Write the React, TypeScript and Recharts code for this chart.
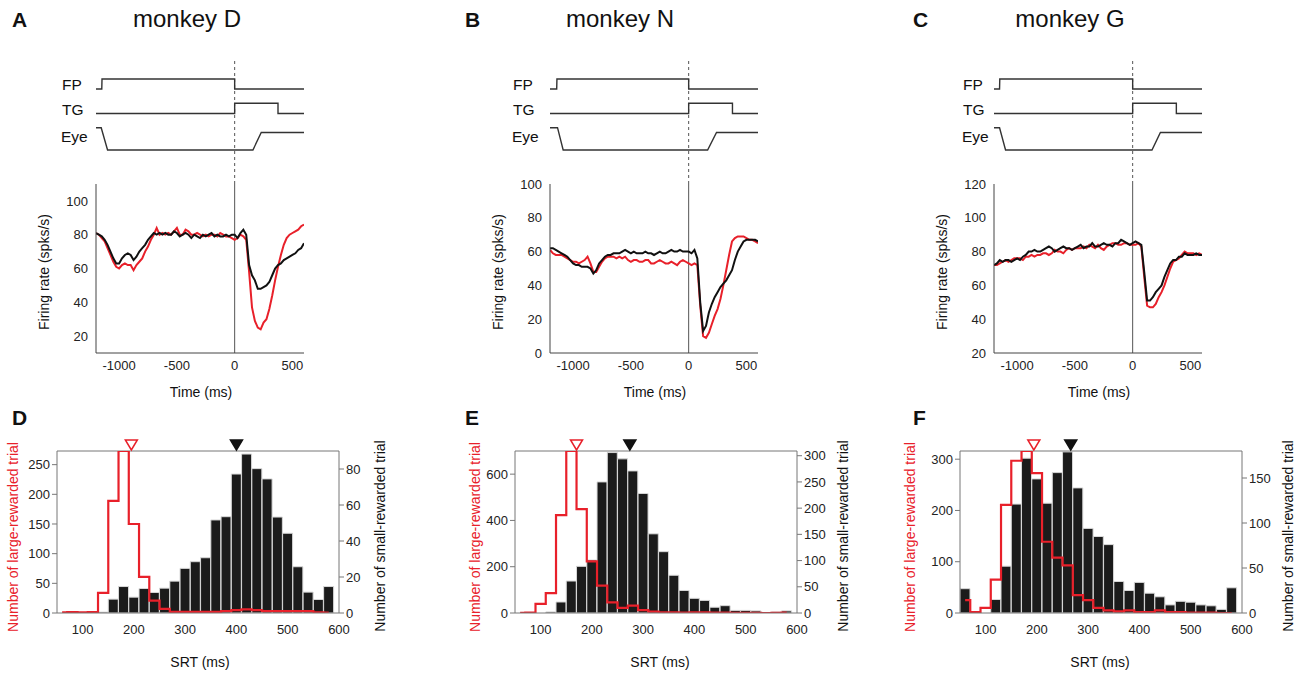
import React from 'react';
import {
  LineChart,
  Line,
  XAxis,
  YAxis,
  ReferenceLine,
  ComposedChart,
  Bar,
  ReferenceDot,
} from 'recharts';

const RED = '#e8202a';
const FONT = '"Liberation Sans", Arial, sans-serif';

// ---------- firing-rate time axis (ms) ----------
const TIME = [
  -1200, -1175, -1150, -1125, -1100, -1075, -1050, -1025, -1000, -975, -950, -925, -900, -875, -850, -825,
  -800, -775, -750, -725, -700, -675, -650, -625, -600, -575, -550, -525, -500, -475, -450, -425,
  -400, -375, -350, -325, -300, -275, -250, -225, -200, -175, -150, -125, -100, -75, -50, -25,
  0, 25, 50, 75, 100, 125, 150, 175, 200, 225, 250, 275, 300, 325, 350, 375,
  400, 425, 450, 475, 500, 525, 550, 575, 600,
];

// monkey D
const A_BLACK = [
  81, 80, 79, 77, 74, 70, 66, 63, 63, 66, 68, 69, 68, 65, 67, 70,
  72, 74, 77, 79, 81, 80, 81, 80, 81, 80, 80, 82, 81, 79, 80, 81,
  80, 78, 80, 79, 78, 80, 79, 80, 81, 79, 80, 79, 79, 80, 79, 80,
  80, 78, 81, 83, 80, 62, 56, 53, 48, 48, 49, 50, 52, 56, 60, 62,
  63, 65, 66, 67, 68, 69, 71, 72, 75,
];
const A_RED = [
  81, 80, 78, 76, 72, 68, 64, 61, 60, 62, 63, 62, 62, 59, 62, 64,
  66, 70, 73, 77, 80, 84, 80, 81, 80, 81, 80, 82, 84, 80, 80, 83,
  82, 80, 80, 81, 80, 79, 80, 79, 80, 80, 79, 81, 80, 79, 79, 78,
  77, 78, 80, 79, 77, 58, 37, 29, 25, 24, 28, 30, 36, 44, 53, 61,
  68, 74, 78, 80, 81, 82, 83, 85, 86,
];

// monkey N
const B_BLACK = [
  62, 62, 61, 60, 59, 58, 57, 55, 53, 52, 52, 51, 51, 51, 50, 47,
  49, 53, 55, 57, 58, 58, 59, 59, 59, 60, 61, 60, 59, 60, 59, 59,
  59, 60, 59, 59, 58, 59, 60, 59, 59, 60, 61, 60, 60, 61, 60, 60,
  60, 59, 61, 56, 30, 13, 16, 24, 29, 33, 36, 39, 41, 43, 46, 49,
  55, 60, 63, 66, 67, 67, 67, 67, 66,
];
const B_RED = [
  61, 59, 58, 58, 58, 57, 56, 55, 54, 54, 53, 54, 55, 57, 53, 48,
  48, 51, 54, 56, 57, 57, 57, 56, 57, 56, 57, 55, 54, 55, 55, 54,
  54, 55, 55, 53, 53, 54, 55, 54, 53, 53, 54, 53, 52, 54, 55, 54,
  53, 52, 53, 52, 28, 10, 9, 12, 17, 22, 26, 32, 40, 49, 58, 66,
  68, 69, 69, 69, 68, 67, 67, 66, 65,
];

// monkey G
const C_BLACK = [
  72, 73, 75, 74, 75, 75, 74, 75, 76, 75, 77, 78, 80, 80, 81, 80,
  80, 81, 82, 83, 82, 80, 81, 82, 83, 82, 82, 81, 82, 83, 84, 82,
  83, 83, 85, 83, 83, 84, 85, 84, 84, 83, 85, 85, 87, 86, 85, 84,
  85, 86, 85, 84, 68, 51, 51, 53, 56, 58, 60, 65, 69, 73, 75, 75,
  77, 77, 79, 78, 78, 78, 79, 78, 78,
];
const C_RED = [
  72, 72, 73, 74, 75, 74, 75, 76, 76, 76, 75, 77, 77, 78, 77, 78,
  78, 79, 79, 78, 79, 81, 80, 80, 79, 81, 82, 81, 82, 82, 82, 83,
  82, 84, 83, 82, 84, 82, 81, 83, 84, 85, 85, 84, 84, 85, 85, 84,
  84, 84, 85, 83, 65, 48, 47, 47, 49, 53, 56, 60, 65, 70, 74, 75,
  76, 78, 80, 79, 79, 79, 78, 79, 78,
];

const RATE_X_TICKS = [-1000, -500, 0, 500];
const A_Y_TICKS = [20, 40, 60, 80, 100];
const B_Y_TICKS = [0, 20, 40, 60, 80, 100];
const C_Y_TICKS = [20, 40, 60, 80, 100, 120];

// ---------- event traces: [time, level] ----------
// levels: FP off 9.5 / on 10.5; TG off 7.05 / on 8.07; Eye start 5.63, fix 3.4, target 5.15
const A_FP = [[-1200, 9.5], [-1150, 9.5], [-1148, 10.5], [0, 10.5], [0, 9.5], [600, 9.5]];
const A_TG = [[-1200, 7.05], [0, 7.05], [0, 8.07], [375, 8.07], [375, 7.05], [600, 7.05]];
const A_EYE = [[-1200, 5.63], [-1155, 5.63], [-1100, 3.4], [158, 3.4], [230, 5.15], [600, 5.15]];
const B_FP = [[-1200, 9.5], [-1142, 9.5], [-1140, 10.5], [0, 10.5], [0, 9.5], [600, 9.5]];
const B_TG = [[-1200, 7.05], [0, 7.05], [0, 8.07], [379, 8.07], [379, 7.05], [600, 7.05]];
const B_EYE = [[-1200, 5.63], [-1135, 5.63], [-1086, 3.4], [164, 3.4], [241, 5.15], [600, 5.15]];
const C_FP = [[-1200, 9.5], [-1152, 9.5], [-1150, 10.5], [0, 10.5], [0, 9.5], [600, 9.5]];
const C_TG = [[-1200, 7.05], [0, 7.05], [0, 8.07], [378, 8.07], [378, 7.05], [600, 7.05]];
const C_EYE = [[-1200, 5.63], [-1152, 5.63], [-1100, 3.4], [167, 3.4], [240, 5.15], [600, 5.15]];

// ---------- SRT histograms (bin centres, 20 ms bins) ----------
const BINS = [60, 80, 100, 120, 140, 160, 180, 200, 220, 240, 260, 280, 300, 320, 340, 360, 380, 400, 420, 440, 460, 480, 500, 520, 540, 560, 580];

const D_SMALL = [0, 0, 0, 0, 0.5, 7.7, 14.7, 8.8, 13.6, 11.4, 13.8, 17.7, 24.8, 28.5, 30.7, 51.7, 53.5, 77.2, 88.3, 80.2, 74.5, 53.3, 44.3, 25.7, 11.6, 7.5, 14.7];
const D_LARGE = [1, 1.5, 1, 1.5, 34, 189, 273, 150, 61, 21, 7, 2, 2, 2, 2, 2, 3, 5, 6, 5, 3, 3, 3, 3, 3, 1, 0.5];
const E_SMALL = [0, 0, 0, 2, 21, 61, 89, 101, 250, 306, 294, 271, 228, 151, 117, 72, 43, 28, 24, 11, 14, 5, 5, 4, 1, 2, 4];
const E_LARGE = [1, 2, 39, 86, 423, 700, 449, 223, 118, 46, 22, 32, 12, 6, 3, 3, 2, 3, 3, 2, 2, 1, 1, 1, 0, 1, 2];
const F_SMALL = [27, 0, 0, 15, 52, 121, 172, 149, 122, 156, 179, 139, 94, 85, 76, 35, 25, 34, 22, 18, 9, 13, 12, 9, 8, 4, 28];
const F_LARGE = [25, 2, 10, 65, 211, 297, 316, 273, 139, 108, 93, 35, 25, 10, 5, 3, 5, 2, 2, 5, 2, 2, 1, 1, 1, 0, 0];

const SRT_TICKS = [100, 200, 300, 400, 500, 600];
const D_LEFT_TICKS = [0, 50, 100, 150, 200, 250];
const D_RIGHT_TICKS = [0, 20, 40, 60, 80];
const E_LEFT_TICKS = [0, 200, 400, 600];
const E_RIGHT_TICKS = [0, 50, 100, 150, 200, 250, 300];
const F_LEFT_TICKS = [0, 100, 200, 300];
const F_RIGHT_TICKS = [0, 50, 100, 150];

// median markers (ms)
const D_MARKS = { large: 195, small: 400 };
const E_MARKS = { large: 170, small: 274 };
const F_MARKS = { large: 194, small: 266 };

const tickStyle = { fontSize: 13, fill: '#222', fontFamily: FONT };

const toPts = (arr: number[][]) => arr.map(([t, v]) => ({ t, v }));

function EventPanel({ left, fp, tg, eye }: any) {
  const lineProps = { dataKey: 'v', stroke: '#333', strokeWidth: 1.4, dot: false, isAnimationActive: false, type: 'linear' as const };
  return (
    <div style={{ position: 'absolute', left, top: 58 }}>
      <LineChart width={320} height={126} margin={{ top: 0, right: 16, bottom: 0, left: 96 }}>
        <XAxis hide type="number" dataKey="t" domain={[-1200, 600]} allowDataOverflow />
        <YAxis hide type="number" domain={[0, 12.6]} />
        <ReferenceLine x={0} stroke="#555" strokeWidth={1} strokeDasharray="3 3" />
        <Line {...lineProps} data={toPts(fp)} />
        <Line {...lineProps} data={toPts(tg)} />
        <Line {...lineProps} data={toPts(eye)} />
      </LineChart>
    </div>
  );
}

function RatePanel({ left, black, red, yDomain, yTicks }: any) {
  const rows = TIME.map((t, i) => ({ t, black: black[i], red: red[i] }));
  return (
    <div style={{ position: 'absolute', left, top: 170 }}>
      <LineChart width={320} height={223} data={rows} margin={{ top: 14, right: 16, bottom: 0, left: 26 }}>
        <XAxis
          dataKey="t"
          type="number"
          domain={[-1200, 600]}
          ticks={RATE_X_TICKS}
          height={40}
          tickLine={false}
          axisLine={{ stroke: '#444' }}
          tick={tickStyle}
          allowDataOverflow
        />
        <YAxis
          type="number"
          domain={yDomain}
          ticks={yTicks}
          width={70}
          tickLine={false}
          axisLine={{ stroke: '#444' }}
          tick={tickStyle}
          allowDataOverflow
        />
        <ReferenceLine x={0} stroke="#555" strokeWidth={1} />
        <Line dataKey="red" stroke={RED} strokeWidth={2} dot={false} isAnimationActive={false} type="linear" />
        <Line dataKey="black" stroke="#111" strokeWidth={2} dot={false} isAnimationActive={false} type="linear" />
      </LineChart>
    </div>
  );
}

const Tri = ({ cx, cy, open }: any) => (
  <polygon
    points={`${cx - 6},${cy - 11} ${cx + 6},${cy - 11} ${cx},${cy - 1}`}
    fill={open ? '#fff' : '#111'}
    stroke={open ? RED : '#111'}
    strokeWidth={1.5}
  />
);

function HistPanel({ left, small, large, maxL, maxR, leftTicks, rightTicks, marks }: any) {
  const rows = BINS.map((x, i) => ({ x, small: small[i], large: large[i] }));
  return (
    <div style={{ position: 'absolute', left, top: 430 }}>
      <ComposedChart
        width={396}
        height={213}
        data={rows}
        margin={{ top: 21, right: 12, bottom: 0, left: 12 }}
        barCategoryGap={0}
        barGap={0}
      >
        <XAxis
          dataKey="x"
          type="number"
          domain={[50, 600]}
          ticks={SRT_TICKS}
          height={30}
          tickLine={false}
          tickSize={8}
          tickMargin={4}
          axisLine={{ stroke: '#777' }}
          tick={tickStyle}
          allowDataOverflow
        />
        <YAxis
          yAxisId="left"
          type="number"
          domain={[0, maxL]}
          ticks={leftTicks}
          width={45}
          tickSize={5}
          tickMargin={2}
          axisLine={{ stroke: '#777' }}
          tickLine={{ stroke: '#777' }}
          tick={tickStyle}
          allowDataOverflow
        />
        <YAxis
          yAxisId="right"
          orientation="right"
          type="number"
          domain={[0, maxR]}
          ticks={rightTicks}
          width={45}
          tickSize={5}
          tickMargin={2}
          axisLine={{ stroke: '#777' }}
          tickLine={{ stroke: '#777' }}
          tick={tickStyle}
          allowDataOverflow
        />
        <ReferenceLine yAxisId="left" y={maxL} stroke="#777" strokeWidth={1} />
        <Bar yAxisId="right" dataKey="small" fill="#1b1b1b" stroke="#d8d8d8" strokeWidth={1} isAnimationActive={false} />
        <Line yAxisId="left" dataKey="large" type="step" stroke={RED} strokeWidth={2.2} dot={false} isAnimationActive={false} />
        <ReferenceDot yAxisId="left" x={marks.large} y={maxL} ifOverflow="visible" shape={(p: any) => <Tri {...p} open />} />
        <ReferenceDot yAxisId="left" x={marks.small} y={maxL} ifOverflow="visible" shape={(p: any) => <Tri {...p} />} />
      </ComposedChart>
    </div>
  );
}

const COLS = [
  { letter: 'A', title: 'monkey D', plotLeft: 96, labelX: 62, titleX: 187 },
  { letter: 'B', title: 'monkey N', plotLeft: 550, labelX: 513, titleX: 620 },
  { letter: 'C', title: 'monkey G', plotLeft: 994, labelX: 963, titleX: 1070 },
];
const LETTERS_X = [12, 465, 913];
const HIST_LETTERS = ['D', 'E', 'F'];
const SRT_LABEL_X = [200, 660, 1100];
const LARGE_LABEL_X = [13, 475, 910];
const SMALL_LABEL_X = [380, 843, 1288];

function Overlay() {
  return (
    <svg
      width={1300}
      height={676}
      style={{ position: 'absolute', left: 0, top: 0, pointerEvents: 'none', fontFamily: FONT }}
    >
      {COLS.map((c, i) => (
        <g key={c.letter}>
          <text x={LETTERS_X[i]} y={19} fontSize={21} fontWeight="bold" fill="#111" dominantBaseline="central">
            {c.letter}
          </text>
          <text x={c.titleX} y={18} fontSize={24} fill="#111" textAnchor="middle" dominantBaseline="central">
            {c.title}
          </text>
          <text x={c.labelX} y={84} fontSize={15.5} fill="#111" dominantBaseline="central">FP</text>
          <text x={c.labelX} y={109} fontSize={15.5} fill="#111" dominantBaseline="central">TG</text>
          <text x={c.labelX - 1} y={136} fontSize={15.5} fill="#111" dominantBaseline="central">Eye</text>
          <text
            x={c.plotLeft - 52}
            y={272}
            fontSize={14}
            fill="#111"
            textAnchor="middle"
            dominantBaseline="central"
            transform={`rotate(-90 ${c.plotLeft - 52} 272)`}
          >
            Firing rate (spks/s)
          </text>
          <text x={c.plotLeft + 105} y={392} fontSize={14} fill="#111" textAnchor="middle" dominantBaseline="central">
            Time (ms)
          </text>
          <text x={LETTERS_X[i]} y={417} fontSize={21} fontWeight="bold" fill="#111" dominantBaseline="central">
            {HIST_LETTERS[i]}
          </text>
          <text x={SRT_LABEL_X[i]} y={662} fontSize={14} fill="#111" textAnchor="middle" dominantBaseline="central">
            SRT (ms)
          </text>
          <text
            x={LARGE_LABEL_X[i]}
            y={537}
            fontSize={14}
            fill={RED}
            textAnchor="middle"
            dominantBaseline="central"
            transform={`rotate(-90 ${LARGE_LABEL_X[i]} 537)`}
          >
            Number of large-rewarded trial
          </text>
          <text
            x={SMALL_LABEL_X[i]}
            y={536}
            fontSize={14}
            fill="#111"
            textAnchor="middle"
            dominantBaseline="central"
            transform={`rotate(-90 ${SMALL_LABEL_X[i]} 536)`}
          >
            Number of small-rewarded trial
          </text>
        </g>
      ))}
    </svg>
  );
}

export default function App() {
  return (
    <div style={{ position: 'absolute', left: 0, top: 0, width: 1300, height: 676, background: '#fff', fontFamily: FONT }}>
      <EventPanel left={0} fp={A_FP} tg={A_TG} eye={A_EYE} />
      <EventPanel left={454} fp={B_FP} tg={B_TG} eye={B_EYE} />
      <EventPanel left={898} fp={C_FP} tg={C_TG} eye={C_EYE} />
      <RatePanel left={0} black={A_BLACK} red={A_RED} yDomain={[10, 110]} yTicks={A_Y_TICKS} />
      <RatePanel left={454} black={B_BLACK} red={B_RED} yDomain={[0, 100]} yTicks={B_Y_TICKS} />
      <RatePanel left={898} black={C_BLACK} red={C_RED} yDomain={[20, 120]} yTicks={C_Y_TICKS} />
      <HistPanel left={0} small={D_SMALL} large={D_LARGE} maxL={273} maxR={90} leftTicks={D_LEFT_TICKS} rightTicks={D_RIGHT_TICKS} marks={D_MARKS} />
      <HistPanel left={458} small={E_SMALL} large={E_LARGE} maxL={700} maxR={309} leftTicks={E_LEFT_TICKS} rightTicks={E_RIGHT_TICKS} marks={E_MARKS} />
      <HistPanel left={903} small={F_SMALL} large={F_LARGE} maxL={316} maxR={180} leftTicks={F_LEFT_TICKS} rightTicks={F_RIGHT_TICKS} marks={F_MARKS} />
      <Overlay />
    </div>
  );
}
